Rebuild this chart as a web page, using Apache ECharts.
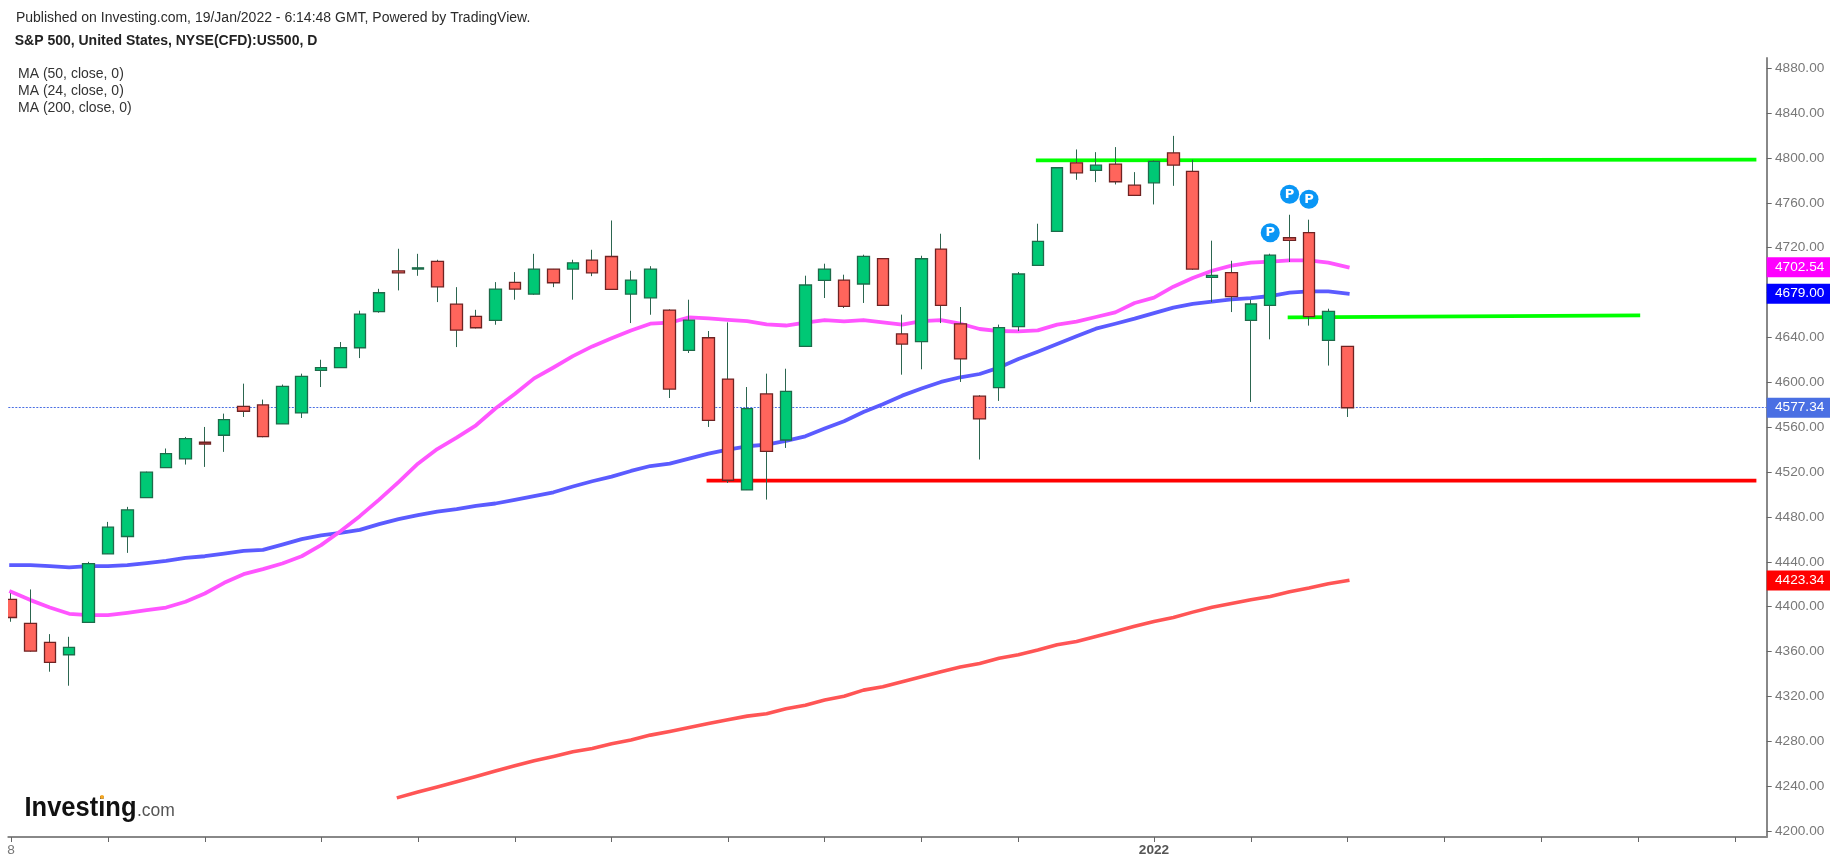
<!DOCTYPE html>
<html><head><meta charset="utf-8">
<style>html,body{margin:0;padding:0;background:#fff;overflow:hidden}#c{width:1837px;height:866px}</style>
<script src="https://cdn.jsdelivr.net/npm/echarts@6/dist/echarts.min.js"></script>
</head><body><div id="c"></div>
<script>
const headerLine = 'Published on Investing.com, 19/Jan/2022 - 6:14:48 GMT, Powered by TradingView.';
const titleLine = 'S&P 500, United States, NYSE(CFD):US500, D';
const maLegend = ['MA (50, close, 0)', 'MA (24, close, 0)', 'MA (200, close, 0)'];

const candleOpen = [4406.5,4385.1,4368.2,4357.2,4386,4447.1,4462.6,4497.3,4524,4531.7,
4546.6,4552.8,4578.6,4579.8,4562.9,4572.7,4610.6,4613,4630.8,4662.9,
4699.3,4700.9,4707.7,4669.7,4658.7,4655.2,4689,4678.6,4700.9,4700.9,
4708.9,4712.1,4678.6,4675.3,4664.4,4628.4,4639.7,4602.9,4504.1,4589.6,
4548.6,4632.1,4690.8,4691.1,4687.6,4710.2,4643.1,4636.2,4718.7,4652,
4587.6,4595.3,4649.6,4704.2,4734.5,4795.6,4788.8,4794.4,4775.7,4777.8,
4804.5,4787.9,4693.5,4697.7,4655.2,4668.6,4728.8,4733.3,4637.4,4632.1];
const candleClose = [4390.4,4360.5,4350.4,4363.7,4438.5,4470.9,4486.3,4519.9,4536.5,4549.8,
4545,4566.7,4574.2,4551.6,4596.4,4605.3,4613,4630.8,4660.8,4679.8,
4697.6,4702,4685.1,4646.5,4648.6,4683.1,4683.1,4700.9,4688.7,4706.5,
4697.6,4682.8,4691.1,4700.9,4594,4655.4,4566.1,4512.7,4576.5,4538.5,
4591.9,4686.7,4700.9,4667.7,4712.2,4668.6,4634.1,4710.1,4668.6,4620.8,
4567.4,4648.7,4696.5,4725.6,4791.2,4786.7,4793.5,4778.7,4766.5,4796.8,
4793.5,4700.9,4695.3,4676.3,4669.8,4713.4,4726.5,4658.5,4663.2,4577.34];
const candleLow = [4386.6,4360,4342.1,4329.6,4386,4447,4448,4497,4524,4526.7,
4524.6,4538,4569.1,4551,4562.9,4568.2,4595.8,4613,4621.6,4662,
4681.9,4694.9,4671.5,4631.4,4648,4651.3,4673.6,4678,4684.8,4673.6,
4694.6,4682.5,4652.8,4660.2,4586,4626.1,4560.2,4510.3,4504,4495.5,
4541.5,4632,4675.1,4666.2,4670.7,4668,4606.8,4611.6,4652.8,4600.3,
4531.2,4583.4,4645.7,4704,4734,4780.5,4778.4,4776.3,4766,4758.5,
4775.1,4700.3,4671.5,4662.6,4582.5,4638.3,4707.2,4650.5,4614.9,4569.1];
const candleHigh = [4412,4415.4,4375.6,4373.2,4440,4475.6,4489,4520.4,4541,4551.3,
4560.2,4572.1,4598.8,4584.6,4598,4607.7,4620.1,4635.9,4663.8,4683.3,
4719,4714.5,4709.2,4684.8,4664.6,4689.3,4698.2,4714.5,4701,4709.2,
4718.1,4744.2,4699.4,4703.5,4665,4673.6,4645.7,4653.4,4595.8,4607.7,
4612.1,4695,4705.7,4695.9,4713.7,4710.2,4660.3,4712.8,4732.4,4667.1,
4588.5,4651.4,4698.3,4741.3,4791.7,4807.5,4805.1,4809.6,4787.3,4797.7,
4819.6,4798.3,4726.2,4708.3,4673.6,4714.6,4749.3,4744.9,4665.6,4632.3];

const ma24 = [4413.3,4405.9,4399.3,4393.7,4392.5,4392.5,4394.6,4397,4399.3,4404.4,
4411.8,4421.3,4429,4433.5,4438.5,4445,4454.9,4467.3,4480.7,4495.5,
4511.1,4527.5,4540.5,4550.7,4561.7,4576.7,4589.5,4603.5,4613.2,4623.3,
4632,4639.2,4646.2,4652.2,4653.1,4657.8,4656.9,4655.7,4654.6,4651.6,
4650.6,4653.1,4655.5,4654.3,4655.5,4653.4,4651.4,4654.6,4655.5,4652.2,
4647.5,4645.7,4645.4,4646.3,4651.4,4654,4658.2,4662.3,4670.7,4675.4,
4685.2,4692.9,4699.4,4703.9,4706.6,4707.5,4708.6,4708.6,4706.6,4702.54];
const ma50 = [4437,4437,4436.2,4435,4436.2,4436.2,4437,4438.8,4440.9,4443.6,
4445,4447.4,4449.8,4450.7,4455.4,4460.2,4463.5,4465.8,4468.5,4473.6,
4478,4481.6,4484.8,4486.9,4489.9,4492,4495.2,4498.5,4502,4507.1,
4511.8,4516,4521,4525.4,4527.5,4532,4536.4,4540,4543,4544.4,
4547.8,4551.9,4558.8,4565.3,4573.6,4580.4,4588.1,4594.4,4600.3,4604.5,
4607.4,4613.1,4620.8,4627.3,4634.1,4641,4647.8,4652.2,4656.7,4661.7,
4666.5,4669.8,4671.8,4673.9,4675.1,4676.9,4679.9,4681,4681,4679];
const ma200Start = 20;
const ma200 = [4230.1,4234.9,4239.3,4244,4248.8,4253.6,4258.3,4262.8,4266.6,4270.8,
4273.7,4277.9,4281.2,4285.6,4288.9,4292.4,4296,4299.3,4302.5,4304.6,
4309,4312.3,4316.8,4320.3,4325.7,4328.7,4333.2,4337.6,4342.1,4346.2,
4349.5,4354,4357.2,4361.4,4366.1,4369.1,4373.5,4378,4382.7,4386.9,
4390.4,4395.2,4399.6,4402.9,4406.2,4409.1,4413.3,4416.6,4420.4,4423.34];

const resistanceLine = [[53,4797.7],[90,4798.4]];
const midLine = [[66,4657.8],[84,4659.6]];
const supportLine = [[36,4512.4],[90,4512.4]];
const noteMarks = [[65,4733.3],[66,4767.6],[67,4763.2]];

const lastPrice = 4577.34;
const yTicks = [4200,4240,4280,4320,4360,4400,4440,4480,4520,4560,4600,4640,4680,4720,4760,4800,4840,4880];
const priceTags = [[4702.54,'m'],[4679,'b'],[4577.34,'p'],[4423.34,'r']];
const xTicks = [0,5,10,16,21,26,31,37,42,47,52,59,64,69,74,79,84,89];
const xLabelIndex = [0,59];
const xLabelText = ['8','2022'];

const font = '"Liberation Sans", Arial, sans-serif';
const lineSeries = (name, data, color, z, width) => ({
  type:'line', name, data, showSymbol:false, symbol:'none', z, silent:true,
  lineStyle:{color, width, cap:'square', join:'round'}
});
const idx = candleOpen.map((_,i)=>i);
const wick = idx.map(i=>[i,candleOpen[i],candleClose[i],candleLow[i],candleHigh[i]]);
const body = idx.map(i=>[i,candleOpen[i],candleClose[i],Math.min(candleOpen[i],candleClose[i]),Math.max(candleOpen[i],candleClose[i])]);

const tagRich = {
  m:{backgroundColor:'#ff00ff'}, b:{backgroundColor:'#0000ff'}, p:{backgroundColor:'#4a6fe3'}, r:{backgroundColor:'#ff0000'}
};
Object.values(tagRich).forEach(s=>Object.assign(s,{color:'#fff',fontSize:13.65,fontFamily:font,width:55,height:20,lineHeight:20,padding:[0,0,0,8.3],align:'left'}));

const chart = echarts.init(document.getElementById('c'),null,{renderer:'canvas',width:1837,height:866});
const txt = (x,y,text,opt,extra)=>Object.assign({type:'text',x,y,silent:true,style:Object.assign({text,fontFamily:font,fontSize:14,fill:'#333',textVerticalAlign:'middle'},opt||{})},extra||{});
chart.setOption({
  animation:false, backgroundColor:'#fff',
  grid:{left:8.3,right:70.3,top:58,bottom:29,containLabel:false},
  xAxis:{type:'value',min:-0.145,max:90.63,splitLine:{show:false},
    axisLine:{show:true,onZero:false,lineStyle:{color:'#888',width:2}},
    axisTick:{show:true,customValues:xTicks,length:5,lineStyle:{color:'#666',width:1}},
    axisLabel:{show:true,customValues:xLabelIndex,margin:6,color:'#777',fontSize:13.65,fontFamily:font,
      hideOverlap:false,showMinLabel:true,showMaxLabel:true,
      formatter:v=>{const k=xLabelIndex.indexOf(Math.round(v));const t=k<0?'':xLabelText[k];return t.length>1?'{b|'+t+'}':t;},
      rich:{b:{fontWeight:'bold',color:'#555',fontSize:13.65,fontFamily:font}}}},
  yAxis:[{type:'value',position:'right',min:4194.8,max:4889,scale:true,splitLine:{show:false},
      axisLine:{show:true,onZero:false,lineStyle:{color:'#888',width:2}},
      axisTick:{show:true,customValues:yTicks,length:5,lineStyle:{color:'#666',width:1}},
      axisLabel:{customValues:yTicks,margin:8.3,color:'#787878',fontSize:13.65,fontFamily:font,formatter:v=>v.toFixed(2),showMinLabel:true,showMaxLabel:true}},
    {type:'value',position:'right',min:4194.8,max:4889,scale:true,splitLine:{show:false},z:5,
      axisLine:{show:false},axisTick:{show:false},
      axisLabel:{customValues:priceTags.map(t=>t[0]),margin:0,fontFamily:font,fontSize:13.65,showMinLabel:true,showMaxLabel:true,hideOverlap:false,
        formatter:v=>{const t=priceTags.find(p=>Math.abs(p[0]-v)<0.01);return t?'{'+t[1]+'|'+v.toFixed(2)+'}':'';},rich:tagRich}}],
  series:[
    lineSeries('MA 200',ma200.map((v,i)=>[i+ma200Start,v]),'#ff5555',1,3.6),
    lineSeries('MA 50',ma50.map((v,i)=>[i,v]),'#5b5bff',1,3.8),
    lineSeries('MA 24',ma24.map((v,i)=>[i,v]),'#ff55ff',1,3.8),
    lineSeries('Resistance',resistanceLine,'#00ff00',1,3.8),
    lineSeries('Middle',midLine,'#00ff00',1,3.8),
    lineSeries('Support',supportLine,'#ff0000',1,3.8),
    {type:'candlestick',name:'wicks',z:2,silent:true,barWidth:1,data:wick,encode:{x:0,y:[1,2,3,4]},
      itemStyle:{color:'#1f5e44',color0:'#1f5e44',borderColor:'#2c6650',borderColor0:'#2c6650',borderWidth:1},
      markLine:{silent:true,symbol:'none',animation:false,z:1,label:{show:false},
        lineStyle:{color:'#4a6fe3',type:[2,1.5],width:1},data:[{yAxis:lastPrice}]}},
    {type:'candlestick',name:'bodies',z:3,silent:true,barWidth:12,data:body,encode:{x:0,y:[1,2,3,4]},
      itemStyle:{color:'#00c875',color0:'#ff655c',borderColor:'#1d6b4a',borderColor0:'#6f2323',borderWidth:1.3}},
    {type:'scatter',name:'notes',z:4,silent:true,symbol:'circle',symbolSize:19,data:noteMarks,
      itemStyle:{color:'#0a96f5',opacity:1},
      label:{show:true,position:'inside',formatter:'P',color:'#fff',fontFamily:'"DejaVu Sans"',fontWeight:'bold',fontSize:13}}
  ],
  graphic:[
    {type:'rect',silent:true,z:50,shape:{x:0,y:58,width:8,height:777},style:{fill:'#fff'}},
    txt(15.9,18.2,headerLine,{fontSize:14,fill:'#2b2b2b'}),
    txt(14.7,40.7,titleLine,{fontSize:14,fontWeight:'bold',fill:'#222'}),
    txt(18,74.5,maLegend[0],{fontSize:14}),
    txt(18,91.5,maLegend[1],{fontSize:14}),
    txt(18,108.5,maLegend[2],{fontSize:14}),
    txt(24.5,808,'Investing',{fontSize:28.5,fontWeight:'bold',fill:'#111'},{scaleX:0.895}),
    txt(137,811,'.com',{fontSize:17.5,fill:'#555'}),
    {type:'circle',silent:true,z:60,shape:{cx:102,cy:797,r:2},style:{fill:'#f7a823'}}
  ]
});
</script></body></html>
